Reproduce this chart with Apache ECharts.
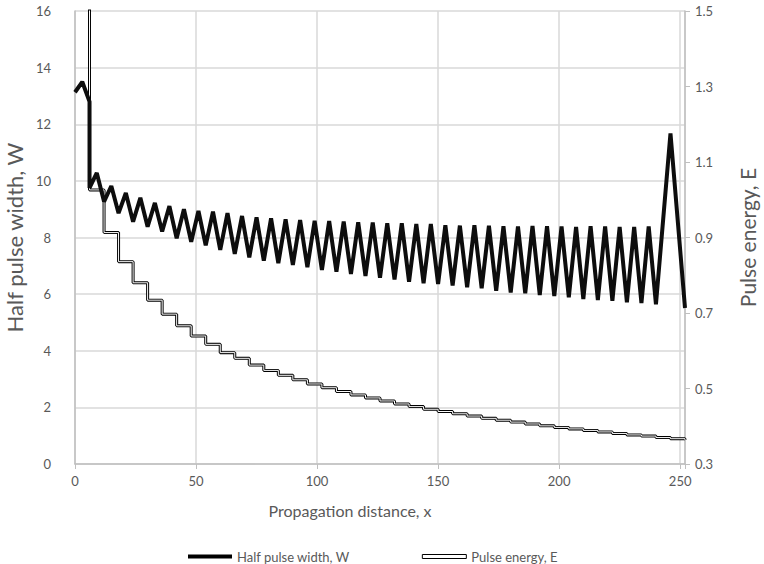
<!DOCTYPE html>
<html>
<head>
<meta charset="utf-8">
<script src="https://cdn.jsdelivr.net/npm/echarts@6/dist/echarts.min.js"></script>
<style>html,body{margin:0;padding:0;background:#fff}#c{width:764px;height:564px}</style>
</head>
<body>
<div id="c"></div>
<script>
// Half pulse width W (left axis) vs propagation distance x
const widthX = [0,3,6,6,9,12,15,18,21,24,27,30,33,36,39,42,45,48,51,54,57,60,63,66,69,72,75,78,81,84,87,90,93,96,99,102,105,108,111,114,117,120,123,126,129,132,135,138,141,144,147,150,153,156,159,162,165,168,171,174,177,180,183,186,189,192,195,198,201,204,207,210,213,216,219,222,225,228,231,234,237,240,246,252];
const widthW = [13.13,13.5,12.8,9.75,10.28,9.27,9.82,8.86,9.57,8.56,9.40,8.38,9.22,8.21,9.11,7.97,9.00,7.85,8.94,7.72,8.91,7.56,8.86,7.42,8.76,7.30,8.71,7.18,8.68,7.09,8.64,7.03,8.62,6.95,8.59,6.85,8.58,6.79,8.56,6.71,8.54,6.64,8.53,6.58,8.50,6.52,8.50,6.44,8.48,6.38,8.48,6.36,8.43,6.30,8.42,6.24,8.43,6.21,8.42,6.12,8.40,6.06,8.39,6.03,8.41,5.97,8.40,5.93,8.39,5.89,8.37,5.83,8.40,5.79,8.39,5.76,8.37,5.71,8.37,5.68,8.39,5.64,11.68,5.51];
// Pulse energy E (right axis): value held from each x until the next x
const energyX = [0,6,12,18,24,30,36,42,48,54,60,66,72,78,84,90,96,102,108,114,120,126,132,138,144,150,156,162,168,174,180,186,192,198,204,210,216,222,228,234,240,246,252];
const energyE = [2.0,1.026,0.913,0.836,0.780,0.734,0.697,0.666,0.639,0.617,0.595,0.580,0.562,0.548,0.535,0.523,0.512,0.502,0.492,0.483,0.475,0.467,0.459,0.452,0.445,0.439,0.433,0.427,0.421,0.416,0.411,0.406,0.401,0.397,0.393,0.389,0.385,0.381,0.377,0.374,0.370,0.367,0.364];
const xTicks = [0,50,100,150,200,250];
const leftTicks = [0,2,4,6,8,10,12,14,16];
const rightTicks = [0.3,0.5,0.7,0.9,1.1,1.3,1.5];
const names = ['Half pulse width, W','Pulse energy, E'];

const wData = widthX.map((x,i)=>[x,widthW[i]]);
const eData = energyX.map((x,i)=>[x,energyE[i]]);
const FONT = 'Lato';
const chart = echarts.init(document.getElementById('c'), null, {renderer:'svg'});
chart.setOption({
  animation:false,
  backgroundColor:'#fff',
  textStyle:{fontFamily:FONT},
  grid:{left:75,right:79,top:11,bottom:100,containLabel:false,outerBoundsMode:'none'},
  legend:{
    left:183, top:545, itemGap:72, itemWidth:44, itemHeight:4,
    textStyle:{fontFamily:FONT,fontSize:13,color:'#595959'},
    data:[
      {name:names[0], icon:'path://M0 0H44V4H0Z', itemStyle:{color:'#000'}},
      {name:names[1], icon:'path://M0 0H44V4H0Z', itemStyle:{color:'#fff',borderColor:'#000',borderWidth:1}}
    ]
  },
  xAxis:{
    type:'value', min:0, max:252, interval:50,
    name:'Propagation distance, x', nameLocation:'middle', nameGap:38,
    nameTextStyle:{fontFamily:FONT,fontSize:16,color:'#595959',padding:[0,60,0,0]},
    axisLine:{show:true,onZero:false,lineStyle:{color:'#bfbfbf',width:1.5}},
    axisTick:{show:true,length:5,lineStyle:{color:'#bfbfbf'}},
    axisLabel:{fontFamily:FONT,fontSize:13,color:'#595959',margin:10,
      formatter:v=>xTicks.includes(v)?String(v):''},
    splitLine:{show:true,lineStyle:{color:'#d9d9d9',width:1.5}}
  },
  yAxis:[
    {type:'value', min:0, max:16, interval:2, position:'left',
     name:names[0], nameLocation:'middle', nameGap:42,
     nameTextStyle:{fontFamily:FONT,fontSize:22,color:'#595959'},
     axisLine:{show:true,lineStyle:{color:'#bfbfbf',width:1.5}},
     axisTick:{show:false},
     axisLabel:{fontFamily:FONT,fontSize:13,color:'#595959',margin:24,
       formatter:v=>leftTicks.includes(v)?String(v):''},
     splitLine:{show:true,lineStyle:{color:'#d9d9d9',width:1.5}}},
    {type:'value', min:0.3, max:1.5, interval:0.2, position:'right',
     name:names[1], nameLocation:'middle', nameGap:52,
     nameTextStyle:{fontFamily:FONT,fontSize:21,color:'#595959'},
     axisLine:{show:true,lineStyle:{color:'#bfbfbf',width:1.5}},
     axisTick:{show:true,length:5,lineStyle:{color:'#bfbfbf'}},
     axisLabel:{fontFamily:FONT,fontSize:13,color:'#595959',margin:10,
       formatter:v=>v.toFixed(1)},
     splitLine:{show:false}}
  ],
  series:[
    {name:names[1], type:'line', yAxisIndex:1, data:eData, step:'end', symbol:'none',
     lineStyle:{color:'#000',width:3}, itemStyle:{color:'#fff'}, z:2},
    {name:'_Einner', type:'line', yAxisIndex:1, data:eData, step:'end', symbol:'none',
     lineStyle:{color:'#fff',width:1}, z:3, legendHoverLink:false},
    {name:names[0], type:'line', yAxisIndex:0, data:wData, symbol:'none',
     lineStyle:{color:'#0d0d0d',width:4}, itemStyle:{color:'#000'}, z:4}
  ]
});
</script>
</body>
</html>
